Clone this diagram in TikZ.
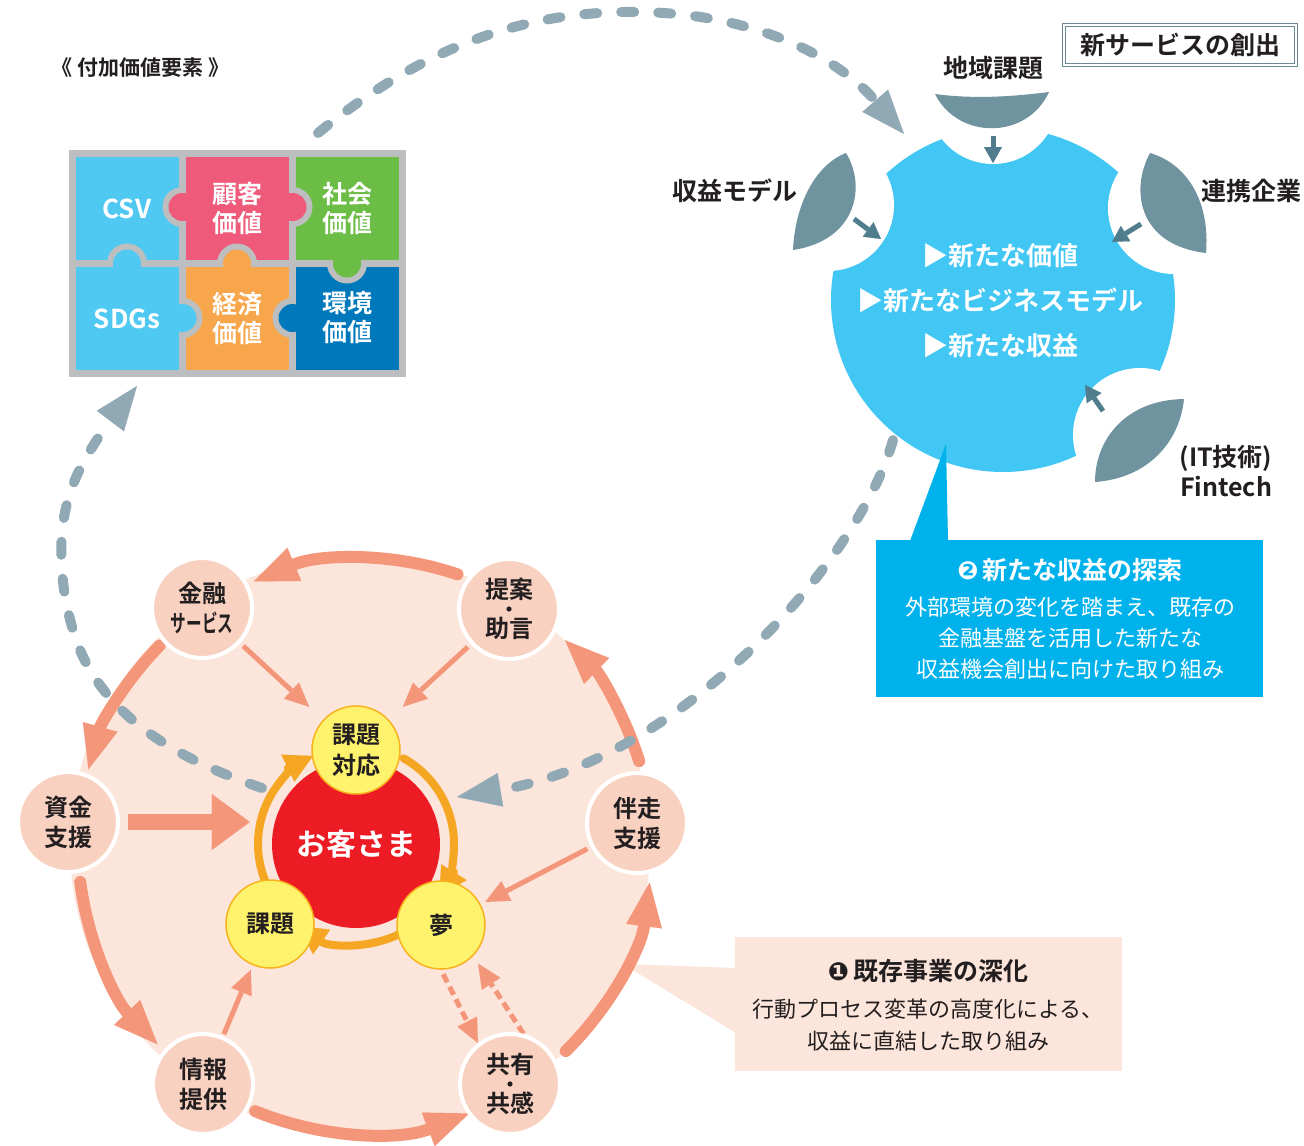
\documentclass[tikz,border=0pt]{standalone}
\usepackage{fontspec}
\usepackage{graphicx}
\setmainfont{Noto Sans CJK JP}[BoldFont={Noto Sans CJK JP Bold}]
\newfontfamily\dvfont{DejaVu Sans}
\usetikzlibrary{arrows.meta,calc}
\pgfdeclarelayer{back}
\pgfsetlayers{back,main}
\definecolor{txt}{HTML}{231F20}
\definecolor{salmon}{HTML}{F4967A}
\definecolor{pale}{HTML}{FCE5DB}
\definecolor{nodepk}{HTML}{F9D1C0}
\definecolor{yel}{HTML}{FFF36D}
\definecolor{yelb}{HTML}{F7B21E}
\definecolor{orng}{HTML}{F5A623}
\definecolor{cred}{HTML}{ED1C24}
\definecolor{dgray}{HTML}{91A9B5}
\definecolor{cblue}{HTML}{42C6F3}
\definecolor{cbluetwo}{HTML}{00B2EC}
\definecolor{leafc}{HTML}{6F939F}
\definecolor{arrdark}{HTML}{4F7D8D}
\definecolor{boxgray}{HTML}{6B8A96}
\definecolor{pzgray}{HTML}{BCBEC0}
\definecolor{pzlb}{HTML}{4FC9F2}
\definecolor{pzpink}{HTML}{EF5A7B}
\definecolor{pzgreen}{HTML}{6CBD45}
\definecolor{pzorange}{HTML}{F8A64B}
\definecolor{pzblue}{HTML}{0079BC}
\newcommand\myfs[2]{\fontsize{#1}{#2}\selectfont}
\newcommand\pzknob[4]{\begin{scope}\clip #3 rectangle #4;\fill[pzgray] #1 circle (20);\end{scope}\fill[#2] #1 circle (14);}
\begin{document}
\begin{tikzpicture}[x=1pt,y=-1pt,
  rnode/.style={circle,fill=nodepk,draw=white,line width=4pt,minimum size=100pt,inner sep=0pt,align=center,text=txt,font=\bfseries\myfs{24}{30}},
  ynode/.style={circle,fill=yel,draw=yelb,line width=1.5pt,minimum size=88pt,inner sep=0pt,align=center,text=txt,font=\bfseries\myfs{24}{31}},
  pztxt/.style={text=white,align=center,font=\bfseries\myfs{25}{29}},
  lbl/.style={text=txt,align=center,font=\bfseries\myfs{25}{30}},
  rarrow/.style={line width=12pt,color=salmon,line cap=round,-{Triangle[length=44pt,width=36pt,line width=0.1pt]}},
  tharrow/.style={line width=5pt,color=salmon,-{Triangle[length=24pt,width=22pt,line width=0.1pt]}},
  dtharrow/.style={tharrow,dash pattern=on 9pt off 5pt},
  cyc/.style={line width=8pt,color=orng,line cap=round,-{Triangle[length=28pt,width=30pt,line width=0.1pt]}},
  gdash/.style={line width=10pt,color=dgray,line cap=round,dash pattern=on 13pt off 24pt,-{Triangle[length=44pt,width=34pt,line width=0.1pt]}},
  sarrow/.style={line width=5pt,color=arrdark,-{Triangle[length=16pt,width=18pt,line width=0.1pt]}}]
\useasboundingbox (0,0) rectangle (1304,1146);

% ---------- nodes ----------
\node[rnode] (kinyu) at (202,608) {金融\\\scalebox{0.65}[1]{サービス}};
\node[rnode] (teian) at (509,609) {提案\\[9pt]助言};
\node[rnode] (hanso) at (637,823) {伴走\\支援};
\node[rnode] (kyoyu) at (510,1084) {共有\\[9pt]共感};
\node[rnode] (joho) at (203,1084) {情報\\提供};
\node[rnode] (shikin) at (68,822) {資金\\支援};
\fill[txt] (teian.center) circle (2.6);
\fill[txt] (kyoyu.center) circle (2.6);
\node[circle,fill=cred,minimum size=168pt,inner sep=0pt,text=white,font=\bfseries\myfs{30}{34}] (okyaku) at (356,844) {お客さま};
\node[ynode] (taio) at (356,750) {課題\\対応};
\node[ynode] (yume) at (441,925) {夢};
\node[ynode] (kadai) at (270,924) {課題};

\node[pztxt,font=\bfseries\myfs{26}{29}] (csv) at (127,209) {CSV};
\node[pztxt] (kokyaku) at (237,208) {顧客\\価値};
\node[pztxt] (shakai) at (347,208) {社会\\価値};
\node[pztxt,font=\bfseries\myfs{26}{29}] (sdgs) at (127,319) {SDGs};
\node[pztxt] (keizai) at (237,318) {経済\\価値};
\node[pztxt] (kankyo) at (347,318) {環境\\価値};
\node[lbl,anchor=west,font=\bfseries\myfs{21}{24}] (pztitle) at (48,68) {《 付加価値要素 》};

\node[lbl] (chiiki) at (993,68) {地域課題};
\node[lbl] (shueki) at (735,191) {収益モデル};
\node[lbl] (renkei) at (1251,191) {連携企業};
\node[lbl] (fintech) at (1226,471) {(IT技術)\\Fintech};
\node[lbl,draw=boxgray,double=white,double distance=2pt,line width=1.2pt,minimum width=232pt,minimum height=40pt,inner sep=0pt] (newsvc) at (1180,45) {新サービスの創出};
\node[text=white,align=center,font=\bfseries\myfs{26}{45}] (bt) at (1000,301) {▶新たな価値\\▶新たなビジネスモデル\\▶新たな収益};

\node[fill=cbluetwo,minimum width=387pt,minimum height=157pt,inner sep=0pt,anchor=north west] (boxtwo) at (876,540) {};
\node[text=white,font=\bfseries\myfs{25}{30}] (ttwo) at (1070,570) {{\dvfont ❷}\,新たな収益の探索};
\node[text=white,align=center,font=\myfs{22}{31}] (btwo) at (1070,638) {外部環境の変化を踏まえ、既存の\\金融基盤を活用した新たな\\収益機会創出に向けた取り組み};

\node[fill=pale,minimum width=387pt,minimum height=134pt,inner sep=0pt,anchor=north west] (boxone) at (735,937) {};
\node[text=txt,font=\bfseries\myfs{25}{30}] (tone) at (928,971) {{\dvfont ❶}\,既存事業の深化};
\node[text=txt,align=center,font=\myfs{22}{32}] (bone) at (928,1025) {行動プロセス変革の高度化による、\\収益に直結した取り組み};

\coordinate (rc) at (365,846);
\coordinate (gones) at (262,788);
\coordinate (pztip) at (137,386);
\coordinate (gtwos) at (893,440);
\coordinate (gtwoe) at (457,797);
\coordinate (gths) at (318,133);
\coordinate (gthe) at (904,134);

\begin{pgfonlayer}{back}
\fill[white] (0,0) rectangle (1304,1146);
% puzzle
\fill[pzgray] (69,150) rectangle (406,377);
\fill[pzlb] (76,157) rectangle (179,260);
\fill[pzpink] (186,157) rectangle (289,260);
\fill[pzgreen] (296,157) rectangle (399,260);
\fill[pzlb] (76,267) rectangle (179,370);
\fill[pzorange] (186,267) rectangle (289,370);
\fill[pzblue] (296,267) rectangle (399,370);
\pzknob{(182.5,207)}{pzpink}{(76,157)}{(179,260)}
\pzknob{(292.5,207)}{pzpink}{(296,157)}{(399,260)}
\pzknob{(127,263.5)}{pzlb}{(76,157)}{(179,260)}
\pzknob{(237,263.5)}{pzorange}{(186,157)}{(289,260)}
\pzknob{(347,263.5)}{pzgreen}{(296,267)}{(399,370)}
\pzknob{(182.5,318)}{pzlb}{(186,267)}{(289,370)}
\pzknob{(292.5,318)}{pzblue}{(186,267)}{(289,370)}

% ring background and callout 1 pointer
\fill[pale] (360,846) circle (290);
\fill[pale] (623,964) -- (736,968) -- (736,1033) -- cycle;
\foreach \a/\b in {-71.2/-112.8, -135.7/-164.5, 172.8/136.3, 112.5/68.7, 45.6/7.3, -17.2/-45.8}
  \draw[rarrow] (rc) ++(\a:287) arc[start angle=\a, end angle=\b, radius=287];

% inner arrows
\draw[tharrow,shorten <=4pt,shorten >=19pt] (kinyu) -- (taio);
\draw[tharrow,shorten <=4pt,shorten >=19pt] (teian) -- (taio);
\draw[tharrow,shorten <=4pt,shorten >=5pt] (hanso) -- (yume);
\draw[tharrow,shorten <=2pt,shorten >=5pt] (joho) -- (kadai);
\draw[dtharrow,shorten <=5pt] (yume.south) -- (kyoyu.128);
\draw[dtharrow,shorten >=9pt] (kyoyu.75) -- (yume.-44);
\draw[line width=16pt,color=salmon,-{Triangle[length=38pt,width=56pt,line width=0.1pt]},shorten <=8pt,shorten >=22pt] (shikin.east) -- (shikin.east -| okyaku.west);

% cycle around customer
\draw[cyc] (okyaku.center) ++(153:98) arc[start angle=153,end angle=244,radius=98];
\draw[cyc] (okyaku.center) ++(-61:98) arc[start angle=-61,end angle=32,radius=98];
\draw[cyc] (okyaku.center) ++(65:100) arc[start angle=65,end angle=125,radius=100];

% blue circle
\fill[cblue] (1003,300) circle (172);
\fill[white] (993,99) circle (65);
\fill[white] (828,205) circle (66);
\fill[white] (1174,208) circle (66);
\fill[white] (1140,435) circle (67);
\fill[leafc] (935,94) .. controls (958,140) and (1027,140) .. (1049,92) .. controls (1010,97) and (972,99) .. cycle;
\fill[leafc] (846,153) .. controls (866,185) and (858,240) .. (793,250) .. controls (795,205) and (815,165) .. cycle;
\fill[leafc] (1150,153) .. controls (1130,190) and (1138,245) .. (1206,253) .. controls (1210,205) and (1190,165) .. cycle;
\fill[leafc] (1184,399) .. controls (1125,400) and (1095,440) .. (1095,482) .. controls (1150,478) and (1180,440) .. cycle;
\draw[sarrow] (993,136) -- (993,163);
\draw[sarrow] (854,219) -- (881,239);
\draw[sarrow] (1141,224) -- (1112,242);
\draw[sarrow] (1103,411) -- (1085,385);
\fill[cbluetwo] (946,444) -- (910,541) -- (948,541) -- cycle;

% grey dashed arrows
\draw[gdash] (gones) .. controls (180,760) and (110,720) .. (80,650) .. controls (60,600) and (56,540) .. (68,500) .. controls (78,460) and (115,415) .. (pztip);
\draw[gdash] (gtwos) .. controls (860,560) and (680,760) .. (gtwoe);
\draw[gdash] (gths) .. controls (420,50) and (520,10) .. (640,12) .. controls (760,14) and (840,60) .. (gthe);
\end{pgfonlayer}
\end{tikzpicture}
\end{document}
